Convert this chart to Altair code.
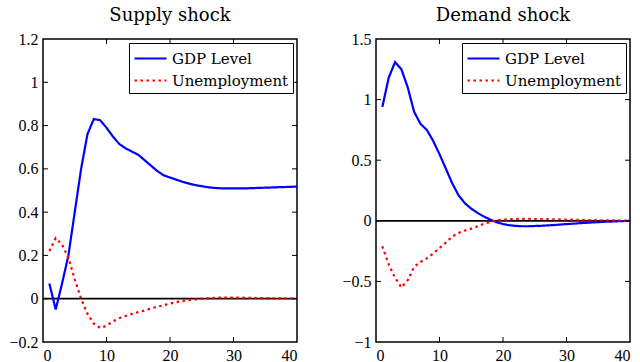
import altair as alt
import pandas as pd

# Impulse responses over a 40-quarter horizon
periods = list(range(1, 41))

supply_gdp = [0.07, -0.05, 0.07, 0.20, 0.40, 0.60, 0.76, 0.83, 0.825, 0.79,
              0.75, 0.715, 0.695, 0.68, 0.665, 0.64, 0.615, 0.59, 0.57, 0.56,
              0.55, 0.54, 0.532, 0.525, 0.52, 0.515, 0.512, 0.51, 0.51, 0.51,
              0.51, 0.51, 0.511, 0.512, 0.513, 0.514, 0.515, 0.516, 0.517, 0.518]
supply_unemp = [0.22, 0.28, 0.25, 0.19, 0.09, 0.00, -0.07, -0.115, -0.135, -0.125,
                -0.105, -0.09, -0.08, -0.07, -0.062, -0.055, -0.045, -0.037, -0.03, -0.022,
                -0.016, -0.011, -0.007, -0.003, 0.0, 0.002, 0.004, 0.005, 0.005, 0.005,
                0.005, 0.004, 0.004, 0.003, 0.003, 0.002, 0.002, 0.001, 0.001, 0.001]

demand_gdp = [0.94, 1.18, 1.31, 1.25, 1.10, 0.90, 0.80, 0.75, 0.66, 0.55,
              0.43, 0.31, 0.21, 0.145, 0.10, 0.065, 0.035, 0.01, -0.012, -0.027,
              -0.037, -0.042, -0.045, -0.045, -0.043, -0.041, -0.038, -0.035, -0.031, -0.027,
              -0.024, -0.02, -0.017, -0.014, -0.011, -0.008, -0.006, -0.004, -0.002, -0.001]
demand_unemp = [-0.21, -0.36, -0.47, -0.55, -0.49, -0.38, -0.34, -0.31, -0.27, -0.225,
                -0.18, -0.13, -0.10, -0.08, -0.065, -0.045, -0.025, -0.01, 0.004, 0.01,
                0.013, 0.015, 0.016, 0.016, 0.015, 0.014, 0.013, 0.012, 0.011, 0.01,
                0.009, 0.008, 0.007, 0.006, 0.005, 0.004, 0.003, 0.003, 0.002, 0.002]

series_names = ["GDP Level", "Unemployment"]
series_colors = ["#0000ff", "#ff0000"]
series_dashes = [[1, 0], [2.5, 3.5]]

x_ticks = [0, 10, 20, 30, 40]
supply_yticks = [-0.2, 0, 0.2, 0.4, 0.6, 0.8, 1, 1.2]
demand_yticks = [-1, -0.5, 0, 0.5, 1, 1.5]

TEXT_FONT = "DejaVu Serif"
NUM_FONT = "Liberation Serif"
W, H = 254, 303
TICK = 5
# legend key: a horizontal stroke, longer than the default unit symbol
KEY_PATH = "M-1.6,0H1.6"


def panel(title, gdp, unemp, ydomain, yticks):
    df = pd.DataFrame({
        "period": periods + periods,
        "value": gdp + unemp,
        "series": [series_names[0]] * len(periods) + [series_names[1]] * len(periods),
    })
    xscale = alt.Scale(domain=[0, 40], nice=False, zero=False)
    yscale = alt.Scale(domain=ydomain, nice=False, zero=False)
    xaxis = alt.Axis(values=x_ticks, ticks=False, grid=False, domain=False,
                     title=None, labelPadding=5)
    yaxis = alt.Axis(values=yticks, ticks=False, grid=False, domain=False,
                     title=None, labelPadding=5, format="~g")
    legend = alt.Legend(title=None, orient="top-right")

    lines = alt.Chart(df).mark_line(strokeWidth=2.2, clip=True).encode(
        x=alt.X("period:Q", scale=xscale, axis=xaxis),
        y=alt.Y("value:Q", scale=yscale, axis=yaxis),
        color=alt.Color("series:N", scale=alt.Scale(domain=series_names, range=series_colors),
                        legend=legend),
        strokeDash=alt.StrokeDash("series:N",
                                  scale=alt.Scale(domain=series_names, range=series_dashes),
                                  legend=legend),
    )

    zero = alt.Chart(pd.DataFrame({"v": [0]})).mark_rule(color="black", strokeWidth=1.8).encode(
        y=alt.Y("v:Q", scale=yscale)
    )

    xt = alt.Chart(pd.DataFrame({"t": x_ticks[1:-1]}))
    yt = alt.Chart(pd.DataFrame({"t": yticks[1:-1]}))
    tick_style = dict(color="black", strokeWidth=1)
    top_ticks = xt.mark_rule(**tick_style).encode(
        x=alt.X("t:Q", scale=xscale), y=alt.value(0), y2=alt.value(TICK))
    bottom_ticks = xt.mark_rule(**tick_style).encode(
        x=alt.X("t:Q", scale=xscale), y=alt.value(H), y2=alt.value(H - TICK))
    left_ticks = yt.mark_rule(**tick_style).encode(
        y=alt.Y("t:Q", scale=yscale), x=alt.value(0), x2=alt.value(TICK))
    right_ticks = yt.mark_rule(**tick_style).encode(
        y=alt.Y("t:Q", scale=yscale), x=alt.value(W), x2=alt.value(W - TICK))

    return alt.layer(zero, lines, top_ticks, bottom_ticks, left_ticks, right_ticks).properties(
        width=W, height=H,
        title=alt.Title(title, font=TEXT_FONT, fontSize=18, fontWeight="normal",
                        color="black", offset=6),
    )


left = panel("Supply shock", supply_gdp, supply_unemp, [-0.2, 1.2], supply_yticks)
right = panel("Demand shock", demand_gdp, demand_unemp, [-1, 1.5], demand_yticks)

chart = alt.hconcat(left, right, spacing=42).resolve_scale(
    color="independent", strokeDash="independent"
).resolve_legend(
    color="independent", strokeDash="independent"
).properties(
    padding={"left": 8, "top": 6, "right": 0, "bottom": 0}
).configure_view(
    stroke="black", strokeWidth=1.5
).configure_axis(
    labelFont=NUM_FONT, labelFontSize=16, labelColor="black"
).configure_legend(
    labelFont=TEXT_FONT, labelFontSize=15, labelColor="black",
    symbolType=KEY_PATH, symbolStrokeWidth=2.2, symbolSize=400,
    symbolFillColor="transparent", symbolOffset=6,
    strokeColor="black", fillColor="white", padding=4, offset=4,
    rowPadding=2, labelOffset=10,
)

chart.save("out.html", embed_options={"renderer": "svg", "actions": False})
